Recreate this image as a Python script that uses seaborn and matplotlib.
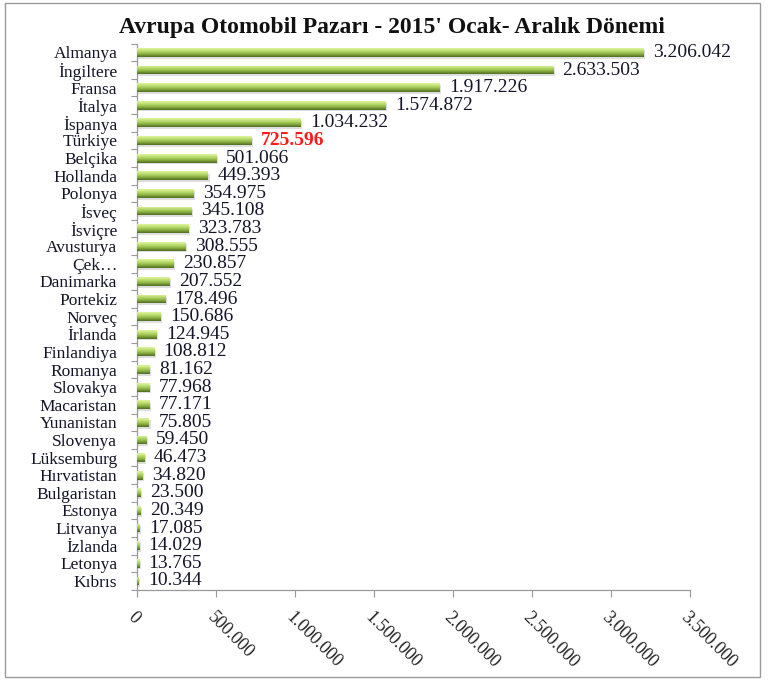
import matplotlib
matplotlib.use("Agg")
import matplotlib.pyplot as plt
import matplotlib.patches as mpatches
from matplotlib.colors import LinearSegmentedColormap
import seaborn as sns
import pandas as pd
import numpy as np

countries = ["Almanya", "İngiltere", "Fransa", "İtalya", "İspanya", "Türkiye", "Belçika",
             "Hollanda", "Polonya", "İsveç", "İsviçre", "Avusturya", "Çek…", "Danimarka",
             "Portekiz", "Norveç", "İrlanda", "Finlandiya", "Romanya", "Slovakya",
             "Macaristan", "Yunanistan", "Slovenya", "Lüksemburg", "Hırvatistan",
             "Bulgaristan", "Estonya", "Litvanya", "İzlanda", "Letonya", "Kıbrıs"]
sales = [3206042, 2633503, 1917226, 1574872, 1034232, 725596, 501066,
         449393, 354975, 345108, 323783, 308555, 230857, 207552,
         178496, 150686, 124945, 108812, 81162, 77968,
         77171, 75805, 59450, 46473, 34820,
         23500, 20349, 17085, 14029, 13765, 10344]
highlight = "Türkiye"
x_ticks = [0, 500000, 1000000, 1500000, 2000000, 2500000, 3000000, 3500000]

def tr_fmt(v):
    return f"{v:,}".replace(",", ".")

df = pd.DataFrame({"country": countries, "sales": sales})
df["group"] = np.where(df["country"] == highlight, "hl", "std")

sns.set_theme(style="white")
plt.rcParams["font.family"] = ["Liberation Serif", "DejaVu Serif"]

fig = plt.figure(figsize=(7.68, 6.81), dpi=100)
ax = fig.add_axes([0.178, 0.134, 0.72, 0.802])

palette = {"std": "#a8cc5c", "hl": "#e42222"}
sns.barplot(data=df, y="country", x="sales", hue="group", palette=palette,
            dodge=False, legend=False, width=0.5, ax=ax, orient="h")

# cylinder-like shading: light top edge, dark bottom edge
green_cmap = LinearSegmentedColormap.from_list(
    "g", ["#e2f6a0", "#c4e27a", "#a2c957", "#7d9f3a", "#4e6a22"])
red_cmap = LinearSegmentedColormap.from_list(
    "r", ["#ff8a8a", "#f03a3a", "#dc1c1c", "#b01010", "#7a0808"])
grad = np.linspace(0, 1, 64).reshape(-1, 1)

bars = [b for cont in ax.containers for b in cont]
for bar in bars:
    fc = bar.get_facecolor()
    is_red = fc[0] > 0.8 and fc[1] < 0.3
    x0, y0 = bar.get_x(), bar.get_y()
    w, h = bar.get_width(), bar.get_height()
    if w <= 0:
        continue
    # soft shadow under the bar
    shadow = mpatches.Rectangle((x0, y0 + h * 0.25), w + 12000, h * 0.95,
                                facecolor="#c8c8c8", edgecolor="none", alpha=0.6, zorder=1)
    ax.add_patch(shadow)
    bar.set_zorder(2)
    bar.set_edgecolor("none")
    im = ax.imshow(grad, cmap=red_cmap if is_red else green_cmap, aspect="auto",
                   extent=(x0, x0 + w, y0 + h, y0), origin="upper",
                   interpolation="bilinear", zorder=3)
    im.set_clip_path(bar)

for i, (c, v) in enumerate(zip(countries, sales)):
    if c == highlight:
        ax.text(v + 62000, i, tr_fmt(v), va="center", ha="left", fontsize=14,
                color="#ff1a1a", fontweight="bold", zorder=4)
    else:
        ax.text(v + 62000, i, tr_fmt(v), va="center", ha="left", fontsize=14,
                color="#141428", zorder=4)

ax.set_xlim(0, 3500000)
ax.set_ylim(len(countries) - 0.5, -0.5)
ax.set_xticks(x_ticks)
ax.set_xticklabels([tr_fmt(t) for t in x_ticks], rotation=-45, ha="left",
                   rotation_mode="anchor", fontsize=13, color="#222222")
ax.set_yticks(range(len(countries)))
ax.set_yticklabels(countries, fontsize=12.5, color="#141428")
ax.set_yticks(np.arange(-0.5, len(countries), 1), minor=True)
ax.tick_params(axis="y", which="major", length=0, pad=14)
ax.tick_params(axis="y", which="minor", length=4, color="#999999", width=0.8, left=True)
ax.tick_params(axis="x", which="major", length=5, color="#999999", width=0.8, bottom=True, pad=9)
ax.set_xlabel("")
ax.set_ylabel("")
for s in ["top", "right"]:
    ax.spines[s].set_visible(False)
for s in ["left", "bottom"]:
    ax.spines[s].set_color("#999999")
    ax.spines[s].set_linewidth(0.9)

fig.text(0.51, 0.959, "Avrupa Otomobil Pazarı - 2015' Ocak- Aralık Dönemi",
         ha="center", va="center", fontsize=17, fontweight="bold", color="#111111")

frame = mpatches.Rectangle((0.0065, 0.006), 0.983, 0.99, transform=fig.transFigure,
                           fill=False, edgecolor="#9a9a9a", linewidth=1.0)
fig.add_artist(frame)

fig.savefig("out.png", dpi=100)
